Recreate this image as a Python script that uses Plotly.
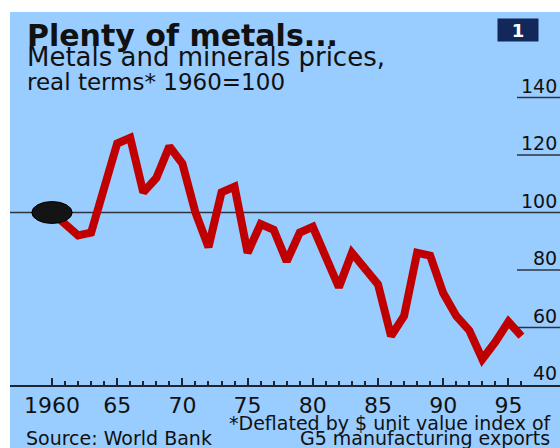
import plotly.graph_objects as go

# ---- data ----
years = list(range(1960, 1997))
prices = [100, 96, 92, 93, 108, 124, 126, 107, 112, 123,
          117, 100, 88, 107, 109, 86, 96, 94, 83, 93,
          95, 84, 74, 86, 80, 75, 57, 64, 86, 85,
          72, 64, 59, 49, 55, 62, 57]
x_tick_vals = [1960, 1965, 1970, 1975, 1980, 1985, 1990, 1995]
x_tick_text = ["1960", "65", "70", "75", "80", "85", "90", "95"]
y_tick_vals = [40, 60, 80, 100, 120, 140]
base_value = 100

title = "<b>Plenty of metals...</b>"
subtitle = "Metals and minerals prices,"
subtitle2 = "real terms* 1960=100"
note1 = "*Deflated by $ unit value index of"
note2 = "G5 manufacturing exports"
source = "Source: World Bank"

# ---- layout geometry (pixels) ----
W, H = 560, 448
L, R, T, B = 10, 0, 12, 63
PW, PH = W - L - R, H - T - B

def px2x(px):
    return (px - L) / PW

def px2y(py):
    return (H - B - py) / PH

BG = "#99ccff"
RED = "#c00000"
FONT = "DejaVu Sans"
INK = "#111111"

fig = go.Figure()
fig.add_trace(go.Scatter(x=years, y=prices, mode="lines",
                         line=dict(color=RED, width=8),
                         hoverinfo="skip", showlegend=False))

shapes = []
# white frame strips
shapes.append(dict(type="rect", xref="paper", yref="paper",
                   x0=px2x(0), x1=px2x(W), y0=px2y(T), y1=px2y(0),
                   fillcolor="white", line=dict(width=0), layer="above"))
shapes.append(dict(type="rect", xref="paper", yref="paper",
                   x0=px2x(0), x1=px2x(L), y0=px2y(H), y1=px2y(0),
                   fillcolor="white", line=dict(width=0), layer="above"))
# gridline stubs at right, full line at base value
for v in y_tick_vals[1:]:
    if v == base_value:
        shapes.append(dict(type="line", xref="paper", yref="y",
                           x0=0, x1=1, y0=v, y1=v,
                           line=dict(color="#2b3440", width=1.5), layer="below"))
    else:
        shapes.append(dict(type="line", xref="paper", yref="y",
                           x0=px2x(517), x1=1, y0=v, y1=v,
                           line=dict(color="#2b3440", width=1.5), layer="below"))
# start dot at first data point
shapes.append(dict(type="circle", xref="x", yref="y",
                   x0=years[0] - 1.55, x1=years[0] + 1.55,
                   y0=prices[0] - 3.8, y1=prices[0] + 3.8,
                   fillcolor="#141414", line=dict(color="#000000", width=1),
                   layer="above"))

annotations = []
annotations.append(dict(text=title, xref="paper", yref="paper",
                        x=px2x(26), y=px2y(35.5), xanchor="left", yanchor="middle",
                        showarrow=False, borderpad=0,
                        font=dict(family=FONT, size=30, color=INK)))
annotations.append(dict(text=subtitle, xref="paper", yref="paper",
                        x=px2x(26), y=px2y(57), xanchor="left", yanchor="middle",
                        showarrow=False, borderpad=0,
                        font=dict(family=FONT, size=26, color=INK)))
annotations.append(dict(text=subtitle2, xref="paper", yref="paper",
                        x=px2x(26), y=px2y(82), xanchor="left", yanchor="middle",
                        showarrow=False, borderpad=0,
                        font=dict(family=FONT, size=23, color=INK)))
annotations.append(dict(text="<b>1</b>", xref="paper", yref="paper",
                        x=px2x(518), y=px2y(30), xanchor="center", yanchor="middle",
                        width=38, height=20, bgcolor="#13285a",
                        showarrow=False, font=dict(family=FONT, size=18, color="white")))
for v in y_tick_vals:
    annotations.append(dict(text=str(v), xref="paper", yref="y",
                            x=px2x(558), y=v, xanchor="right", yanchor="bottom",
                            showarrow=False, borderpad=0,
                            font=dict(family=FONT, size=19, color=INK)))
annotations.append(dict(text=note1, xref="paper", yref="paper",
                        x=px2x(553), y=px2y(423), xanchor="right", yanchor="middle",
                        showarrow=False, borderpad=0,
                        font=dict(family=FONT, size=19, color=INK)))
annotations.append(dict(text=note2, xref="paper", yref="paper",
                        x=px2x(551), y=px2y(437.5), xanchor="right", yanchor="middle",
                        showarrow=False, borderpad=0,
                        font=dict(family=FONT, size=19, color=INK)))
annotations.append(dict(text=source, xref="paper", yref="paper",
                        x=px2x(25), y=px2y(437.5), xanchor="left", yanchor="middle",
                        showarrow=False, borderpad=0,
                        font=dict(family=FONT, size=19, color=INK)))

x0 = years[0] - (52 - L) / 13.04
x1 = years[0] + (W - 52) / 13.04
ytop = 40 + PH / 2.875

fig.update_layout(
    width=W, height=H,
    margin=dict(l=L, r=R, t=T, b=B, pad=0),
    paper_bgcolor=BG, plot_bgcolor=BG,
    shapes=shapes, annotations=annotations,
    showlegend=False,
    xaxis=dict(range=[x0, x1], showgrid=False, zeroline=False,
               showline=True, linecolor="#1e2530", linewidth=1.5,
               tickmode="array", tickvals=x_tick_vals, ticktext=x_tick_text,
               ticks="inside", ticklen=7, tickwidth=1.5, tickcolor="#1e2530",
               minor=dict(tickmode="array", tickvals=years, ticks="inside",
                          ticklen=4, tickwidth=1.5, tickcolor="#1e2530"),
               tickfont=dict(family=FONT, size=22, color=INK),
               fixedrange=True),
    yaxis=dict(range=[40, ytop], showgrid=False, zeroline=False,
               showticklabels=False, ticks="", showline=False, fixedrange=True),
)

fig.write_html("out.html")
